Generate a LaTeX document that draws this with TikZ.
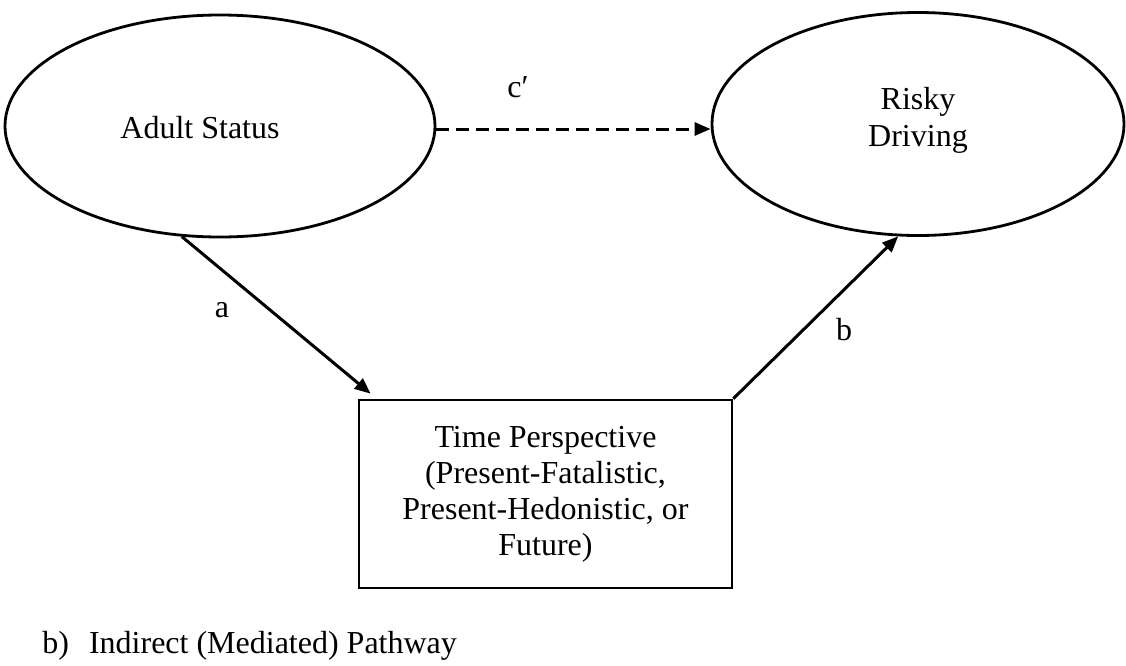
\documentclass[tikz,border=0pt]{standalone}
\usepackage{fontspec}
\setmainfont{Liberation Serif}
\usetikzlibrary{shapes.geometric,arrows.meta,calc}
\begin{document}
\begin{tikzpicture}[x=0.5pt,y=-0.5pt,
  lat/.style={ellipse,draw,line width=1.4pt,inner sep=0pt},
  obs/.style={rectangle,draw,line width=1.3pt,minimum width=186.5pt,minimum height=94pt,
    align=center,font=\fontsize{16}{18}\selectfont},
  txt/.style={font=\fontsize{16}{18.5}\selectfont,align=center,inner sep=0pt},
  path/.style={line width=1.5pt,-{Triangle[length=8pt,width=6.5pt]}},
  lbl/.style={font=\fontsize{16}{18}\selectfont,inner sep=0pt}]
\useasboundingbox (0,0) rectangle (1126,665);
\node[lat,minimum width=215pt,minimum height=111pt] (as) at (220,126) {};
\node[txt] (ast) at (200,128) {Adult Status};
\node[lat,minimum width=206pt,minimum height=111.5pt] (rd) at (918,124) {};
\node[txt] (rdt) at (918,120) {Risky\\Driving};
\node[obs] (tp) at (545.5,494) {Time Perspective\\(Present-Fatalistic,\\Present-Hedonistic, or\\Future)};
\draw[path,dash pattern=on 6.5pt off 3.5pt] ($(as.east)+(0,3)$) -- ($(rd.west)+(0,5)$);
\draw[path] (as.251) -- ($(tp.north west)+(13,-5)$);
\draw[path] (tp.north east) -- (rd.260);
\node[lbl] (lc) at (518,87) {c\symbol{"2032}};
\node[lbl] (la) at (222,310) {a};
\node[lbl] (lb) at (844,330) {b};
\node[anchor=base west,inner sep=0pt,font=\fontsize{16}{18}\selectfont] (cap) at (42,653) {b)\hspace{10pt}Indirect (Mediated) Pathway};
\end{tikzpicture}
\end{document}
